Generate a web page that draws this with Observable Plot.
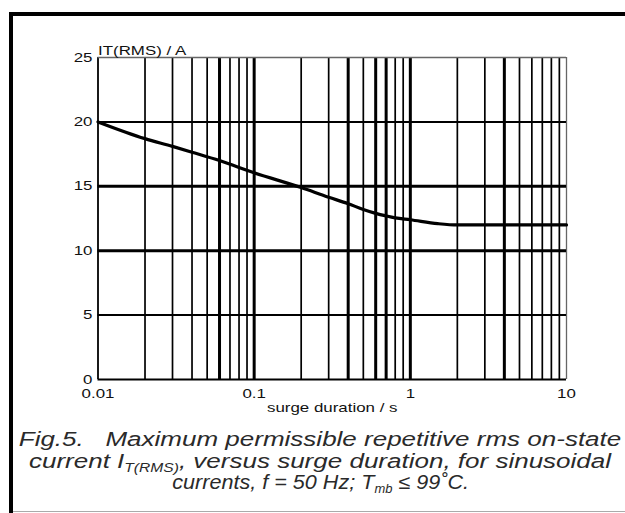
<!DOCTYPE html>
<html>
<head>
<meta charset="utf-8">
<script src="https://cdn.jsdelivr.net/npm/d3@7"></script>
<script src="https://cdn.jsdelivr.net/npm/@observablehq/plot@0.6"></script>
<style>
  html, body { margin: 0; padding: 0; background: #fff; }
  #wrap { position: relative; width: 625px; height: 513px; overflow: hidden; background: #fff; }
  #chart { position: absolute; left: 0; top: 0; }
  #frame { position: absolute; left: 9px; top: 12px; width: 660px; height: 560px;
           border-top: 4px solid #000; border-left: 4px solid #000; box-sizing: border-box; pointer-events: none; }
  #bottomline { position: absolute; left: 13px; top: 511px; width: 612px; height: 1px; background: #aaa; }
  #caption { position: absolute; left: 0; top: 429px; width: 640px; text-align: center;
             font: italic 20px "Liberation Sans", Arial, sans-serif; line-height: 21.5px; color: #2a2a2a;
             white-space: nowrap; transform: scaleX(1.3); transform-origin: 320px 0; }
  #caption sub { font-size: 12px; vertical-align: -4px; line-height: 0; }
  #caption .narrow { display: inline-block; transform: scaleX(0.83); transform-origin: 50% 50%; }
</style>
</head>
<body>
<div id="wrap">
  <div id="chart"></div>
  <div id="frame"></div>
  <div id="bottomline"></div>
  <div id="caption">
    Fig.5.&nbsp;&nbsp;&nbsp;Maximum permissible repetitive rms on-state<br>
    current I<sub>T(RMS)</sub>, versus surge duration, for sinusoidal<br>
    <span class="narrow">currents, f = 50 Hz; T<sub>mb</sub> ≤ 99˚C.</span>
  </div>
</div>
<script>
// surge duration (s) and maximum permissible rms current (A)
const duration = [0.01, 0.02, 0.03, 0.04, 0.06, 0.1, 0.2, 0.3, 0.4, 0.5, 0.6, 0.7, 0.8, 1, 1.5, 2, 10];
const current  = [20, 18.7, 18.1, 17.65, 17.0, 16.05, 14.9, 14.15, 13.65, 13.2, 12.9, 12.7, 12.55, 12.4, 12.1, 12.0, 12.0];

const xTicks = [0.01, 0.1, 1, 10];
const xTickLabels = ["0.01", "0.1", "1", "10"];
const yTicks = [0, 5, 10, 15, 20, 25];
const yTickLabels = ["0", "5", "10", "15", "20", "25"];
const yLabel = "IT(RMS) / A";
const xLabel = "surge duration / s";

const xGrid = [0.01, 0.02, 0.03, 0.04, 0.05, 0.06, 0.07, 0.08, 0.09,
               0.1, 0.2, 0.3, 0.4, 0.5, 0.6, 0.7, 0.8, 0.9,
               1, 2, 3, 4, 5, 6, 7, 8, 9, 10];
const xGridHeavy = [0.06, 0.1, 0.4, 0.6, 0.7, 1, 4];
const yGrid = [5, 10, 15, 20];
const yGridHeavy = [10, 15];

const curveData = duration.map((d, i) => ({x: d, y: current[i]}));
const xEdgeLo = xGrid[0], xEdgeHi = xGrid[xGrid.length - 1];
const xThin = xGrid.filter(v => !xGridHeavy.includes(v) && v !== xEdgeLo && v !== xEdgeHi);
const yThin = yGrid.filter(v => !yGridHeavy.includes(v));

const chart = Plot.plot({
  width: 625,
  height: 420,
  marginLeft: 97.5,
  marginRight: 59,
  marginTop: 57,
  marginBottom: 41,
  style: {fontFamily: "Liberation Sans, Arial, sans-serif", fontSize: "13px", color: "#111", background: "transparent", overflow: "visible"},
  x: {type: "log", domain: [0.01, 10], ticks: xTicks, tickFormat: d => xTickLabels[xTicks.indexOf(d)],
      tickSize: 0, tickPadding: 9, label: null},
  y: {domain: [0, 25], ticks: yTicks, tickFormat: d => yTickLabels[yTicks.indexOf(d)],
      tickSize: 0, tickPadding: 5.5, label: null},
  marks: [
    Plot.ruleX(xThin, {stroke: "#000", strokeWidth: 1.7}),
    Plot.ruleX(xGridHeavy, {stroke: "#000", strokeWidth: 3}),
    Plot.ruleX([xEdgeHi], {stroke: "#666", strokeWidth: 1.3}),
    Plot.ruleX([xEdgeLo], {stroke: "#000", strokeWidth: 1.8}),
    Plot.ruleY(yThin, {stroke: "#000", strokeWidth: 2}),
    Plot.ruleY(yGridHeavy, {stroke: "#000", strokeWidth: 3}),
    Plot.ruleY([25], {stroke: "#666", strokeWidth: 1.3}),
    Plot.ruleY([0], {stroke: "#000", strokeWidth: 2}),
    Plot.line(curveData, {x: "x", y: "y", stroke: "#000", strokeWidth: 3.2, curve: "monotone-x"}),
    Plot.text([yLabel], {frameAnchor: "top-left", textAnchor: "start", dy: -12, fontSize: 13, fill: "#111"}),
    Plot.text([xLabel], {frameAnchor: "bottom", dy: 32, fontSize: 13, fill: "#111"})
  ]
});

// the scanned labels are horizontally stretched: widen each text about its own anchor x
chart.querySelectorAll("text").forEach(t => {
  const raw = t.getAttribute("x") || "0";
  let x = parseFloat(raw);
  if (!isFinite(x)) x = 0;
  if (/em$/.test(raw)) x *= 13;
  const tr = t.getAttribute("transform") || "";
  t.setAttribute("transform", `${tr} translate(${x},0) scale(1.3,1) translate(${-x},0)`.trim());
});
document.getElementById("chart").appendChild(chart);
</script>
</body>
</html>
